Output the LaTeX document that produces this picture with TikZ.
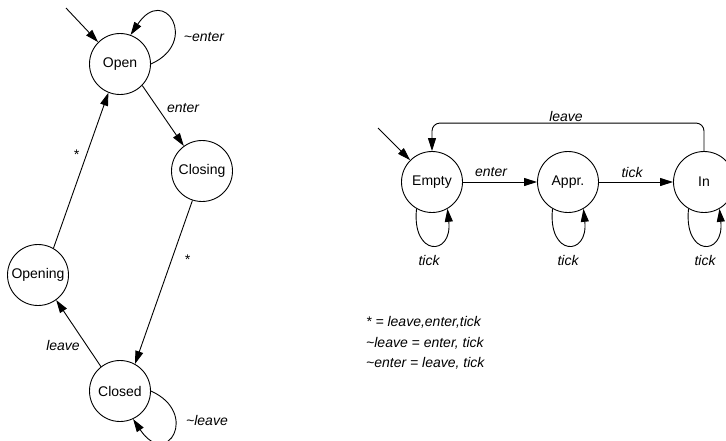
\documentclass[tikz,border=0pt]{standalone}
\usepackage{fontspec}
\setmainfont{Liberation Sans}
\usetikzlibrary{arrows.meta,calc}
\begin{document}
\begin{tikzpicture}[x=1pt,y=1pt,
  state/.style={circle,draw,line width=0.9pt,minimum size=61pt,inner sep=0pt,font=\fontsize{14}{17}\selectfont},
  lbl/.style={font=\fontsize{14}{17}\selectfont\itshape,inner sep=0pt},
  edge/.style={line width=0.9pt,-{Triangle[length=13pt,width=8pt]}}]
\useasboundingbox (0,0) rectangle (726,-440);
\clip (0,0) rectangle (726,-440);
% left machine
\node[state] (open) at (120,-64) {Open};
\node[state] (closing) at (202,-171) {Closing};
\node[state] (opening) at (38,-275) {Opening};
\node[state] (closed) at (120,-391) {Closed};
% right machine
\node[state] (empty) at (432,-182) {Empty};
\node[state] (appr) at (568,-182) {Appr.};
\node[state] (in) at (704,-182) {In};
% initial arrows
\coordinate (s1) at (66,-8);
\draw[edge] (s1) -- (open.135);
\coordinate (s2) at (378,-128);
\draw[edge] (s2) -- (empty.135);
% left edges
\draw[edge] (open.0) .. controls ($(open.0)+(49,22)$) and ($(open.70)+(34,51)$) .. (open.70)
  node[lbl] (l1) at (204,-37) {\textasciitilde enter};
\draw[edge] (open.-44) -- (closing.126) node[lbl] (l2) at (183,-108) {enter};
\draw[edge] (closing.252) -- (closed.61) node[lbl] (l3) at (187,-260) {*};
\draw[edge] (closed.128) -- (opening.-54) node[lbl] (l4) at (63,-345) {leave};
\draw[edge] (opening.60) -- (open.248) node[lbl] (l5) at (76,-155) {*};
\draw[edge] (closed.0) .. controls ($(closed.0)+(49,-22)$) and ($(closed.-65)+(34,-51)$) .. (closed.-65)
  node[lbl] (l6) at (207,-420) {\textasciitilde leave};
% right edges
\draw[edge] (empty) -- (appr) node[lbl] (r1) at (491,-172) {enter};
\draw[edge] (appr) -- (in) node[lbl] (r2) at (632,-172) {tick};
\draw[edge,rounded corners=8pt] (in.north) -- ++(0,28) -| (empty.north)
  node[lbl] (r3) at (566,-116) {leave};
\draw[edge] (empty.240) .. controls ($(empty.240)+(-5,-48)$) and ($(empty.300)+(5,-48)$) .. (empty.300)
  node[lbl] (r4) at (429,-260) {tick};
\draw[edge] (appr.240) .. controls ($(appr.240)+(-5,-48)$) and ($(appr.300)+(5,-48)$) .. (appr.300)
  node[lbl] (r5) at (568,-260) {tick};
\draw[edge] (in.240) .. controls ($(in.240)+(-5,-48)$) and ($(in.300)+(5,-48)$) .. (in.300)
  node[lbl] (r6) at (705,-260) {tick};
% legend
\node[lbl,anchor=west] (n1) at (366,-322) {* = leave,enter,tick};
\node[lbl,anchor=west] (n2) at (366,-343) {\textasciitilde leave = enter, tick};
\node[lbl,anchor=west] (n3) at (366,-363) {\textasciitilde enter = leave, tick};
\end{tikzpicture}
\end{document}
